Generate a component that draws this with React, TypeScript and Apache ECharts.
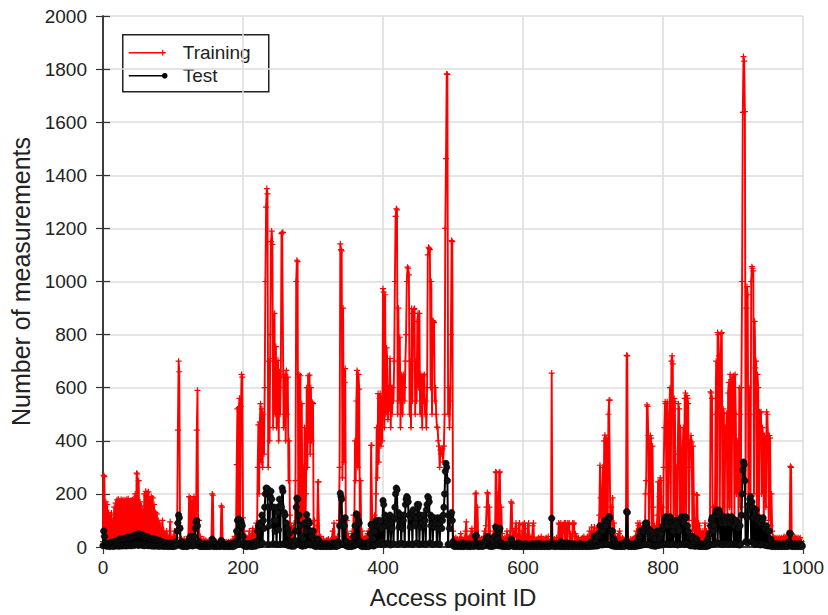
import React, { useEffect, useRef } from "react";
import * as echarts from "echarts";

// Training measurement counts per access point ID (0..999)
const training: number[] = [
  20, 270, 265, 30, 170, 10, 160, 25, 130, 15,
  120, 20, 128, 8, 100, 40, 150, 12, 165, 30,
  178, 15, 180, 35, 172, 10, 180, 22, 175, 8,
  178, 30, 175, 12, 180, 25, 182, 10, 168, 40,
  176, 15, 178, 20, 182, 30, 200, 12, 278, 275,
  20, 250, 10, 170, 35, 155, 15, 140, 25, 200,
  30, 210, 10, 205, 18, 208, 40, 180, 12, 190,
  20, 185, 15, 160, 30, 130, 10, 125, 25, 100,
  15, 90, 30, 75, 10, 100, 20, 60, 12, 45,
  10, 60, 25, 40, 8, 35, 95, 15, 30, 12,
  40, 10, 60, 15, 35, 8, 90, 440, 700, 660,
  80, 10, 30, 8, 25, 15, 30, 10, 20, 8,
  25, 12, 40, 190, 10, 185, 20, 170, 15, 175,
  190, 25, 180, 120, 440, 590, 30, 100, 10, 40,
  12, 25, 8, 20, 30, 10, 15, 25, 8, 18,
  20, 8, 25, 12, 15, 30, 200, 195, 10, 15,
  8, 18, 20, 10, 12, 20, 8, 18, 25, 155,
  150, 12, 15, 8, 18, 10, 20, 8, 15, 20,
  10, 12, 20, 8, 15, 25, 10, 30, 40, 15,
  60, 310, 520, 40, 525, 560, 80, 530, 650, 640,
  110, 20, 60, 15, 40, 10, 35, 25, 12, 60,
  15, 40, 10, 50, 70, 20, 45, 60, 15, 90,
  30, 300, 460, 200, 470, 540, 320, 520, 300, 500,
  350, 600, 1000, 1280, 1350, 1330, 300, 700, 400, 800,
  1150, 1190, 1140, 450, 710, 880, 500, 755, 450, 620,
  703, 400, 660, 500, 640, 1180, 1185, 1185, 450, 600,
  650, 400, 665, 500, 640, 250, 400, 120, 30, 80,
  20, 70, 15, 90, 30, 250, 1000, 1080, 1075, 60,
  650, 100, 645, 40, 540, 20, 300, 60, 450, 30,
  200, 600, 300, 645, 400, 647, 350, 600, 400, 545,
  540, 40, 100, 20, 60, 15, 80, 245, 245, 30,
  15, 40, 10, 25, 8, 30, 12, 20, 8, 25,
  10, 25, 30, 8, 15, 25, 10, 30, 60, 8,
  90, 12, 30, 10, 30, 40, 12, 100, 300, 1142,
  1120, 1115, 260, 900, 320, 620, 672, 40, 100, 12,
  50, 10, 30, 8, 30, 15, 60, 20, 120, 40,
  400, 250, 550, 665, 300, 650, 595, 40, 250, 20,
  60, 12, 30, 8, 35, 10, 40, 15, 50, 60,
  10, 60, 20, 383, 383, 40, 60, 15, 120, 30,
  200, 450, 260, 578, 320, 560, 578, 380, 560, 400,
  973, 960, 450, 950, 500, 750, 710, 480, 600, 520,
  710, 450, 600, 500, 600, 550, 700, 1000, 1245, 1274,
  1270, 500, 900, 550, 790, 450, 650, 600, 500, 650,
  600, 550, 700, 800, 1000, 1054, 1050, 1025, 500, 700,
  450, 898, 550, 880, 895, 898, 500, 700, 550, 850,
  880, 600, 880, 500, 650, 600, 450, 645, 550, 650,
  500, 550, 450, 600, 1100, 1129, 1125, 1120, 600, 1000,
  500, 853, 850, 845, 550, 600, 500, 452, 450, 400,
  380, 300, 365, 350, 365, 370, 320, 380, 500, 1200,
  1463, 1782, 1780, 500, 600, 450, 550, 800, 1154, 1150,
  60, 10, 30, 8, 35, 15, 30, 8, 20, 30,
  10, 50, 8, 30, 12, 25, 35, 10, 60, 95,
  15, 30, 8, 35, 40, 10, 60, 70, 12, 40,
  8, 60, 200, 203, 10, 150, 30, 8, 35, 12,
  25, 8, 30, 12, 40, 60, 10, 80, 150, 205,
  200, 10, 150, 40, 8, 25, 35, 10, 60, 80,
  12, 283, 280, 20, 200, 80, 280, 283, 15, 150,
  50, 10, 30, 8, 35, 12, 30, 60, 10, 40,
  8, 40, 60, 170, 165, 15, 60, 10, 50, 70,
  90, 10, 40, 8, 80, 90, 12, 40, 8, 60,
  85, 10, 90, 70, 12, 40, 8, 80, 90, 10,
  40, 8, 25, 35, 80, 90, 10, 30, 8, 20,
  30, 8, 35, 12, 20, 8, 40, 10, 25, 8,
  30, 10, 20, 35, 8, 25, 40, 10, 20, 8,
  30, 655, 10, 25, 8, 30, 12, 20, 35, 8,
  25, 90, 85, 10, 90, 80, 12, 85, 60, 90,
  10, 90, 70, 8, 90, 85, 90, 12, 50, 40,
  8, 90, 85, 90, 10, 50, 40, 8, 25, 35,
  10, 25, 8, 30, 12, 35, 8, 40, 10, 30,
  8, 30, 40, 10, 30, 60, 8, 40, 75, 12,
  30, 60, 75, 10, 30, 60, 70, 12, 80, 120,
  308, 185, 40, 150, 300, 60, 400, 421, 80, 410,
  400, 60, 500, 553, 553, 30, 150, 90, 185, 20,
  90, 10, 40, 8, 25, 40, 10, 50, 60, 8,
  30, 12, 35, 8, 30, 25, 10, 30, 722, 720,
  10, 30, 8, 20, 30, 10, 25, 30, 8, 35,
  10, 40, 60, 12, 90, 80, 10, 90, 70, 8,
  40, 10, 60, 80, 12, 200, 250, 535, 530, 420,
  30, 250, 420, 410, 40, 380, 150, 20, 80, 60,
  10, 80, 120, 245, 20, 190, 260, 250, 30, 150,
  20, 300, 450, 547, 540, 60, 547, 100, 300, 500,
  600, 100, 700, 720, 690, 80, 560, 547, 120, 300,
  40, 350, 540, 520, 100, 450, 300, 60, 350, 450,
  120, 560, 580, 80, 570, 560, 540, 100, 300, 400,
  420, 395, 60, 380, 200, 30, 100, 20, 197, 195,
  10, 90, 80, 12, 60, 50, 8, 60, 50, 10,
  90, 8, 60, 50, 12, 60, 80, 20, 584, 580,
  560, 40, 150, 100, 30, 500, 700, 100, 808, 800,
  720, 60, 550, 804, 808, 120, 520, 504, 80, 450,
  400, 504, 100, 580, 620, 150, 650, 630, 120, 600,
  640, 645, 100, 650, 500, 200, 400, 300, 100, 600,
  500, 150, 600, 1000, 1637, 1847, 1830, 1640, 200, 900,
  981, 950, 200, 600, 500, 150, 1000, 1056, 1050, 1040,
  200, 850, 675, 700, 150, 650, 600, 100, 509, 505,
  509, 200, 450, 420, 100, 420, 400, 150, 509, 500,
  420, 100, 420, 410, 80, 200, 60, 40, 10, 30,
  35, 8, 30, 35, 10, 30, 35, 12, 30, 35,
  10, 30, 35, 40, 8, 35, 40, 10, 35, 40,
  30, 60, 304, 300, 10, 40, 30, 8, 40, 30,
  35, 10, 30, 35, 8, 30, 35, 10, 20, 10,
];

// Test measurement counts per access point ID (0..999)
const test: number[] = [
  5, 60, 40, 8, 15, 3, 12, 5, 10, 2,
  15, 3, 18, 6, 15, 2, 20, 5, 22, 4,
  20, 5, 22, 3, 30, 6, 28, 4, 30, 5,
  30, 6, 32, 4, 35, 8, 38, 5, 35, 6,
  38, 5, 40, 8, 42, 6, 45, 10, 45, 8,
  48, 6, 50, 10, 45, 8, 45, 6, 42, 5,
  40, 8, 35, 6, 38, 5, 32, 8, 30, 4,
  30, 5, 32, 3, 28, 6, 28, 4, 25, 3,
  25, 4, 22, 3, 20, 5, 18, 2, 15, 4,
  15, 3, 10, 2, 12, 4, 15, 2, 10, 3,
  12, 2, 15, 4, 20, 5, 60, 90, 120, 110,
  70, 5, 20, 3, 12, 2, 15, 4, 10, 2,
  10, 3, 15, 30, 5, 40, 8, 25, 4, 20,
  40, 6, 70, 95, 100, 80, 5, 20, 3, 12,
  2, 8, 3, 10, 2, 12, 3, 8, 2, 12,
  3, 8, 2, 10, 3, 12, 30, 25, 2, 8,
  3, 12, 2, 10, 4, 8, 2, 12, 3, 25,
  20, 3, 8, 2, 10, 3, 10, 2, 8, 3,
  12, 2, 8, 3, 12, 2, 8, 3, 12, 5,
  20, 60, 100, 10, 105, 90, 15, 100, 90, 80,
  40, 5, 15, 3, 10, 2, 8, 3, 12, 4,
  12, 3, 8, 2, 15, 4, 12, 3, 20, 5,
  20, 60, 80, 8, 90, 80, 10, 120, 15, 100,
  70, 150, 200, 222, 210, 220, 10, 150, 80, 190,
  210, 180, 150, 12, 100, 150, 60, 100, 10, 130,
  150, 65, 180, 10, 160, 150, 222, 210, 12, 130,
  120, 10, 90, 15, 70, 5, 50, 10, 20, 3,
  12, 5, 20, 3, 25, 60, 150, 184, 180, 10,
  120, 8, 80, 5, 40, 3, 30, 6, 90, 5,
  60, 122, 10, 100, 12, 90, 8, 60, 10, 40,
  60, 5, 25, 3, 12, 2, 12, 30, 25, 3,
  12, 2, 8, 3, 12, 2, 8, 3, 12, 2,
  8, 3, 12, 2, 8, 3, 12, 2, 15, 4,
  15, 3, 8, 2, 12, 4, 20, 6, 80, 202,
  190, 180, 10, 100, 12, 80, 110, 5, 20, 3,
  12, 2, 8, 3, 12, 2, 15, 4, 40, 5,
  80, 8, 125, 120, 10, 100, 90, 8, 20, 3,
  12, 2, 8, 3, 12, 2, 15, 3, 10, 2,
  20, 4, 50, 85, 80, 5, 30, 4, 60, 8,
  100, 10, 80, 100, 15, 80, 100, 10, 70, 20,
  175, 160, 10, 120, 80, 110, 90, 15, 80, 85,
  120, 8, 90, 70, 100, 12, 110, 150, 200, 222,
  215, 10, 130, 75, 100, 120, 15, 90, 70, 100,
  120, 10, 160, 180, 190, 185, 170, 12, 120, 75,
  110, 130, 10, 140, 120, 80, 90, 110, 15, 160,
  150, 160, 10, 120, 75, 110, 90, 12, 120, 80,
  100, 10, 140, 160, 190, 185, 170, 15, 120, 80,
  110, 10, 90, 110, 75, 90, 100, 12, 110, 70,
  90, 10, 110, 100, 70, 100, 120, 150, 200, 285,
  315, 300, 250, 10, 120, 70, 110, 120, 130, 100,
  20, 3, 10, 2, 10, 4, 10, 2, 10, 3,
  10, 2, 12, 3, 15, 2, 10, 3, 12, 4,
  10, 2, 8, 3, 12, 2, 8, 4, 10, 3,
  12, 3, 40, 45, 5, 12, 2, 8, 3, 12,
  10, 2, 12, 3, 15, 20, 5, 25, 35, 40,
  35, 4, 12, 3, 8, 2, 10, 3, 20, 40,
  5, 75, 70, 8, 30, 5, 60, 70, 4, 15,
  12, 2, 8, 3, 10, 2, 10, 3, 10, 2,
  10, 3, 15, 30, 25, 4, 10, 2, 10, 3,
  10, 2, 12, 3, 15, 2, 10, 3, 10, 2,
  10, 3, 8, 2, 12, 3, 8, 2, 10, 3,
  10, 2, 8, 3, 12, 2, 8, 3, 10, 2,
  12, 3, 8, 2, 12, 3, 8, 2, 10, 3,
  10, 2, 8, 3, 12, 2, 8, 3, 10, 2,
  10, 108, 5, 8, 2, 10, 3, 12, 2, 8,
  10, 3, 12, 2, 20, 3, 12, 2, 15, 3,
  10, 2, 8, 3, 15, 2, 10, 3, 12, 2,
  8, 3, 12, 2, 8, 3, 10, 2, 10, 3,
  10, 2, 12, 3, 8, 2, 10, 3, 10, 2,
  10, 3, 8, 2, 12, 3, 15, 2, 20, 5,
  20, 3, 40, 5, 20, 4, 40, 5, 50, 8,
  80, 10, 60, 8, 60, 80, 10, 100, 80, 12,
  100, 10, 110, 114, 110, 8, 60, 5, 60, 4,
  30, 3, 15, 2, 10, 3, 10, 2, 10, 3,
  10, 2, 12, 3, 8, 2, 12, 20, 133, 130,
  15, 2, 8, 3, 10, 2, 10, 3, 10, 2,
  12, 3, 15, 4, 25, 5, 40, 6, 60, 8,
  60, 8, 60, 70, 10, 90, 85, 90, 10, 70,
  60, 8, 40, 60, 5, 40, 30, 4, 30, 3,
  30, 5, 60, 50, 6, 30, 40, 50, 8, 70,
  80, 10, 100, 110, 114, 12, 90, 80, 10, 110,
  114, 10, 90, 80, 12, 60, 80, 100, 10, 100,
  90, 8, 70, 60, 10, 100, 110, 114, 12, 100,
  90, 10, 114, 110, 12, 80, 60, 8, 40, 5,
  40, 5, 40, 30, 4, 15, 3, 10, 30, 4,
  15, 3, 10, 2, 12, 3, 8, 2, 10, 3,
  12, 2, 15, 3, 30, 5, 50, 8, 80, 100,
  110, 10, 60, 80, 12, 120, 130, 139, 15, 120,
  139, 130, 12, 100, 90, 10, 100, 114, 12, 100,
  90, 12, 110, 114, 10, 100, 90, 12, 114, 110,
  100, 10, 80, 100, 12, 100, 90, 10, 70, 8,
  80, 10, 120, 200, 290, 320, 310, 250, 20, 120,
  110, 15, 140, 160, 180, 189, 20, 170, 150, 15,
  110, 10, 120, 140, 12, 110, 100, 10, 110, 8,
  90, 10, 100, 110, 8, 80, 70, 6, 80, 5,
  60, 5, 60, 4, 30, 3, 15, 2, 10, 3,
  10, 2, 12, 3, 8, 2, 12, 3, 8, 2,
  10, 3, 12, 2, 8, 3, 12, 2, 8, 3,
  20, 52, 50, 3, 12, 2, 8, 3, 12, 2,
  8, 3, 12, 2, 8, 3, 12, 2, 8, 3,
];

const xTicks = { min: 0, max: 1000, interval: 200 };
const yTicks = { min: 0, max: 2000, interval: 200 };
const seriesNames = ["Training", "Test"];
const axisNames = { x: "Access point ID", y: "Number of measurements" };

const FONT = "'Liberation Sans', Arial, Helvetica, sans-serif";
const PLUS = "path://M2,0H3V2H5V3H3V5H2V3H0V2H2Z";

export default function App() {
  const ref = useRef<HTMLDivElement>(null);
  useEffect(() => {
    if (!ref.current) return;
    const chart = echarts.init(ref.current, undefined, { renderer: "svg" });
    const trainPts = training.map((v, i) => [i, v]);
    const testPts = test.map((v, i) => [i, v]);
    const frameLine = { show: true, lineStyle: { color: "#333", width: 1.5 } };
    const tick = { show: true, inside: true, length: 7, lineStyle: { color: "#333", width: 1.2 } };
    const grid = { show: true, lineStyle: { color: "#dcdcdc", width: 1.5 } };
    const plain = (v: number) => String(v);
    chart.setOption({
      animation: false,
      backgroundColor: "#fff",
      grid: { left: 103, top: 16, width: 700, height: 531, containLabel: false },
      xAxis: [
        {
          type: "value", ...xTicks, position: "bottom",
          axisLine: frameLine, axisTick: tick, splitLine: grid,
          axisLabel: { fontSize: 19, color: "#222", margin: 11, fontFamily: FONT, formatter: plain },
          name: axisNames.x, nameLocation: "middle", nameGap: 38,
          nameTextStyle: { fontSize: 24, color: "#222", fontFamily: FONT },
        },
        {
          type: "value", ...xTicks, position: "top",
          axisLine: frameLine, axisTick: tick, splitLine: { show: false },
          axisLabel: { show: false },
        },
      ],
      yAxis: [
        {
          type: "value", ...yTicks, position: "left",
          axisLine: frameLine, axisTick: tick, splitLine: grid,
          axisLabel: { fontSize: 19, color: "#222", margin: 16, fontFamily: FONT, formatter: plain },
          name: axisNames.y, nameLocation: "middle", nameGap: 66, nameRotate: 90,
          nameTextStyle: { fontSize: 25, color: "#222", fontFamily: FONT },
        },
        {
          type: "value", ...yTicks, position: "right",
          axisLine: frameLine, axisTick: tick, splitLine: { show: false },
          axisLabel: { show: false },
        },
      ],
      series: [
        {
          name: seriesNames[0], type: "line", data: trainPts,
          symbol: PLUS, symbolSize: 6, showSymbol: true, showAllSymbol: true,
          lineStyle: { color: "#ff0000", width: 1.9 },
          itemStyle: { color: "#ff0000" },
          z: 2,
        },
        {
          name: seriesNames[1], type: "line", data: testPts,
          symbol: "circle", symbolSize: 6.5, showSymbol: true, showAllSymbol: true,
          lineStyle: { color: "#000", width: 2 },
          itemStyle: { color: "#111", borderColor: "#000", borderWidth: 0.5 },
          z: 3,
        },
      ],
      graphic: [
        {
          type: "group", z: 100, left: 122, top: 34,
          children: [
            { type: "rect", shape: { x: 0, y: 0, width: 146, height: 57 }, style: { fill: "#fff", stroke: "#222", lineWidth: 1.5 } },
            { type: "line", shape: { x1: 6, y1: 18, x2: 43, y2: 18 }, style: { stroke: "#ff0000", lineWidth: 1.5 } },
            { type: "line", shape: { x1: 40, y1: 15, x2: 40, y2: 21 }, style: { stroke: "#ff0000", lineWidth: 1.2 } },
            { type: "text", x: 60, y: 18, style: { text: seriesNames[0], fontSize: 19, fontFamily: FONT, fill: "#222", verticalAlign: "middle" } },
            { type: "line", shape: { x1: 6, y1: 41, x2: 42, y2: 41 }, style: { stroke: "#000", lineWidth: 1.5 } },
            { type: "circle", shape: { cx: 42, cy: 41, r: 2.8 }, style: { fill: "#000" } },
            { type: "text", x: 60, y: 41, style: { text: seriesNames[1], fontSize: 19, fontFamily: FONT, fill: "#222", verticalAlign: "middle" } },
          ],
        },
      ],
    });
    return () => chart.dispose();
  }, []);
  return <div ref={ref} style={{ position: "fixed", left: 0, top: 0, width: 828, height: 615 }} />;
}
